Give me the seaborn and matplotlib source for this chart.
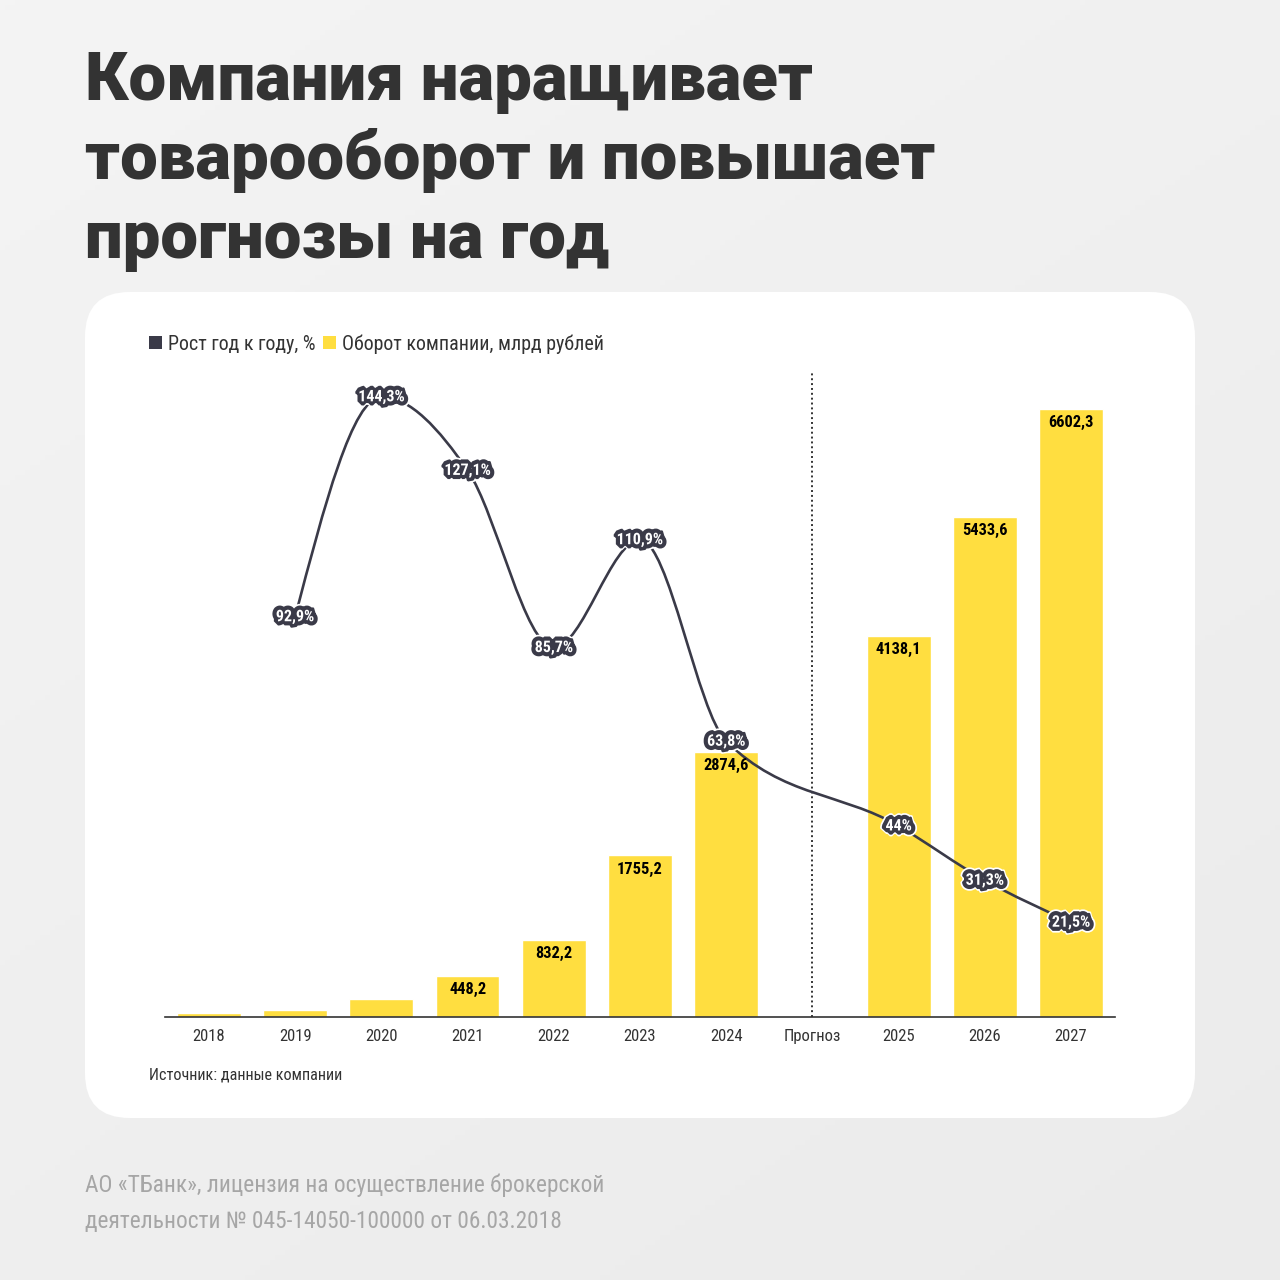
import numpy as np
import pandas as pd
import matplotlib
matplotlib.use("Agg")
import matplotlib.pyplot as plt
import matplotlib.patheffects as pe
from matplotlib import font_manager
from matplotlib.patches import FancyBboxPatch, Patch, PathPatch
from matplotlib.path import Path
import seaborn as sns

# ---------------- data ----------------
categories = ['2018', '2019', '2020', '2021', '2022', '2023', '2024', 'Прогноз', '2025', '2026', '2027']
turnover_years = ['2018', '2019', '2020', '2021', '2022', '2023', '2024', '2025', '2026', '2027']
turnover_values = [42, 81, 197, 448.2, 832.2, 1755.2, 2874.6, 4138.1, 5433.6, 6602.3]
turnover_labeled = ['2021', '2022', '2023', '2024', '2025', '2026', '2027']
growth_years = ['2019', '2020', '2021', '2022', '2023', '2024', '2025', '2026', '2027']
growth_values = [92.9, 144.3, 127.1, 85.7, 110.9, 63.8, 44, 31.3, 21.5]

title_lines = ['Компания наращивает', 'товарооборот и повышает', 'прогнозы на год']
legend_labels = ['Рост год к году, %', 'Оборот компании, млрд рублей']
source_text = 'Источник: данные компании'
footer_lines = ['АО «ТБанк», лицензия на осуществление брокерской',
                'деятельности № 045-14050-100000 от 06.03.2018']

YELLOW = '#FFDE40'
DARK = '#3a3a48'
TEXT = '#333333'

sns.set_theme(style='white')
plt.rcParams['font.family'] = ['Roboto', 'DejaVu Sans']

installed = {f.name for f in font_manager.fontManager.ttflist}
cond_name = None
for cand in ['Roboto Condensed', 'Liberation Sans Narrow', 'DejaVu Sans Condensed', 'Open Sans Condensed']:
    if cand in installed:
        cond_name = cand
        break
COND = [cond_name, 'DejaVu Sans'] if cond_name else ['Roboto', 'DejaVu Sans']
footer_size = 16.8 if cond_name else 15

W = 1280.0
def px(x):
    return x / W
def py(y):
    return 1 - y / W

fig = plt.figure(figsize=(12.8, 12.8), dpi=100)

# background gradient
bg = fig.add_axes([0, 0, 1, 1], zorder=-10)
grad = np.linspace(0, 1, 256)
gx, gy = np.meshgrid(grad, grad)
g = 0.957 - 0.035 * (0.6 * gy + 0.4 * gx)
bg.imshow(np.dstack([g, g, g]), extent=[0, 1, 0, 1], aspect='auto', origin='upper')
bg.set_axis_off()

# white card
card = FancyBboxPatch((px(85) + 0.035, py(1118) + 0.035), px(1110) - 0.07, (1118 - 292) / W - 0.07,
                      boxstyle='round,pad=0.035,rounding_size=0.035',
                      transform=fig.transFigure, facecolor='white', edgecolor='none', zorder=-5)
fig.patches.append(card)

# title
for i, line in enumerate(title_lines):
    fig.text(px(85), py(100 + 79 * i), line, fontsize=48.3, fontweight='black',
             color=TEXT, va='baseline', ha='left')

# main axes
ax = fig.add_axes([px(165), py(1017), px(950), (1017 - 372) / W])
ax.set_facecolor('none')

df = pd.DataFrame({'year': turnover_years, 'value': turnover_values})
sns.barplot(data=df, x='year', y='value', order=categories, color=YELLOW,
            saturation=1, width=0.74, ax=ax)
ax.set_xlim(-0.51, len(categories) - 0.49)
ax.set_ylim(0, 7005)
ax.set_xlabel('')
ax.set_ylabel('')
ax.set_yticks([])
for s in ['top', 'right', 'left']:
    ax.spines[s].set_visible(False)
ax.spines['bottom'].set_color(TEXT)
ax.spines['bottom'].set_linewidth(1.2)
ax.tick_params(axis='x', length=0, pad=8.5, labelsize=12, colors=TEXT)
for lab in ax.get_xticklabels():
    lab.set_family(COND)

# forecast divider
ax.axvline(categories.index('Прогноз'), ymin=0, ymax=1, color=TEXT, lw=1.4,
           ls=(0, (1, 1.5)), zorder=1)

# line axis
ax2 = ax.twinx()
ax2.set_ylim(-0.65, 150.1)
ax2.set_yticks([])
for s in ['top', 'right', 'left', 'bottom']:
    ax2.spines[s].set_visible(False)

# monotone-x cubic (d3 style) through the growth points
xs = np.array([categories.index(y) for y in growth_years], dtype=float)
ys = np.array(growth_values, dtype=float)
n = len(xs)
h = np.diff(xs)
s = np.diff(ys) / h
t = np.zeros(n)
for i in range(1, n - 1):
    h0, h1, s0, s1 = h[i - 1], h[i], s[i - 1], s[i]
    p = (s0 * h1 + s1 * h0) / (h0 + h1)
    t[i] = (np.sign(s0) + np.sign(s1)) * min(abs(s0), abs(s1), 0.5 * abs(p))
t[0] = (3 * s[0] - t[1]) / 2
t[-1] = (3 * s[-1] - t[-2]) / 2
verts = [(xs[0], ys[0])]
codes = [Path.MOVETO]
for i in range(n - 1):
    d = h[i] / 3
    verts += [(xs[i] + d, ys[i] + d * t[i]), (xs[i + 1] - d, ys[i + 1] - d * t[i + 1]), (xs[i + 1], ys[i + 1])]
    codes += [Path.CURVE4] * 3
ax2.add_patch(PathPatch(Path(verts, codes), facecolor='none', edgecolor=DARK, lw=1.9,
                        capstyle='round', joinstyle='round', zorder=2))

# growth labels
for x, v in zip(xs, ys):
    lab = f'{v:g}'.replace('.', ',') + '%'
    ax2.text(x, v, lab, ha='center', va='center', fontsize=11.5, fontweight='bold',
             color='white', zorder=5, family=COND,
             path_effects=[pe.Stroke(linewidth=8.5, foreground='white', joinstyle='bevel'),
                           pe.Stroke(linewidth=6, foreground=DARK, joinstyle='bevel'),
                           pe.Normal()])

# bar value labels
for yr, v in zip(turnover_years, turnover_values):
    if yr in turnover_labeled:
        ax2.annotate(f'{v:g}'.replace('.', ','), xy=(categories.index(yr), v),
                     xycoords=ax.transData, xytext=(0, -9.8), textcoords='offset points',
                     ha='center', va='center', fontsize=11.8, fontweight='bold',
                     color='black', zorder=6, family=COND)

# legend
handles = [Patch(facecolor=DARK, edgecolor='none'), Patch(facecolor=YELLOW, edgecolor='none')]
leg = ax.legend(handles, legend_labels, ncol=2, frameon=False, loc='center left',
                bbox_to_anchor=(px(149), py(344)), bbox_transform=fig.transFigure,
                borderaxespad=0, borderpad=0, handlelength=0.65, handleheight=0.65,
                handletextpad=0.3, columnspacing=0.35,
                prop={'family': COND, 'size': 14.4})
for txt in leg.get_texts():
    txt.set_color(TEXT)

# source
fig.text(px(149), py(1075), source_text, fontsize=11.6, color=TEXT, va='center', ha='left',
         family=COND)

# footer
for i, line in enumerate(footer_lines):
    fig.text(px(85), py(1185 + 37 * i), line, fontsize=footer_size, color='#a6a6a6',
             va='center', ha='left', family=COND)

fig.savefig('out.png', dpi=100)
